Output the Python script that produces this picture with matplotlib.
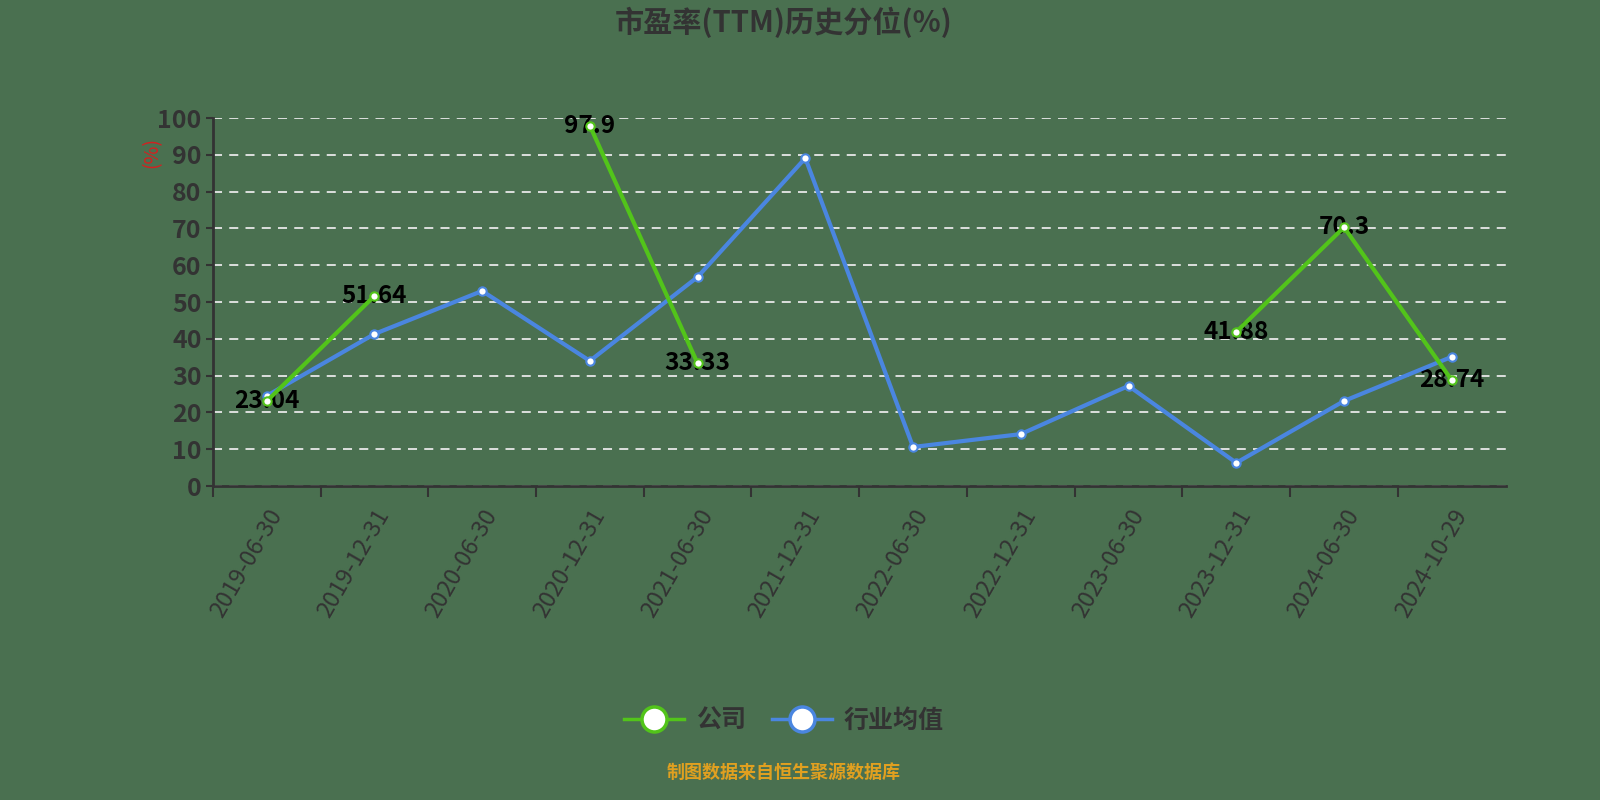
import numpy as np
import matplotlib
matplotlib.use('Agg')
import matplotlib.pyplot as plt
from matplotlib.lines import Line2D

plt.rcParams['font.family'] = ['Noto Sans CJK SC', 'DejaVu Sans']

dates = ['2019-06-30', '2019-12-31', '2020-06-30', '2020-12-31', '2021-06-30', '2021-12-31',
         '2022-06-30', '2022-12-31', '2023-06-30', '2023-12-31', '2024-06-30', '2024-10-29']
company = [23.04, 51.64, np.nan, 97.9, 33.33, np.nan, np.nan, np.nan, np.nan, 41.88, 70.3, 28.74]
industry = [24.5, 41.3, 53.0, 34.0, 56.8, 89.1, 10.6, 14.1, 27.2, 6.3, 23.1, 35.1]

bg = '#4a7050'
green = '#52c41a'
blue = '#4a86e0'
dark = '#333333'

fig = plt.figure(figsize=(16, 8), dpi=100, facecolor=bg)
ax = fig.add_axes([0.133, 0.3925, 0.808, 0.46])
ax.set_facecolor(bg)

x = np.arange(len(dates))
ax.plot(x, industry, color=blue, lw=3, marker='o', ms=6, mfc='white', mec=blue, mew=1.5, zorder=4)
ax.plot(x, company, color=green, lw=3, marker='o', ms=6, mfc='white', mec=green, mew=1.5, zorder=5)

# data labels for company
for xi, v in zip(x, company):
    if not np.isnan(v):
        ax.text(xi, v, f'{v:g}', ha='center', va='center', fontsize=17.5, fontweight='bold',
                color='black', zorder=3)

ax.set_xlim(-0.5, len(dates) - 0.5)
ax.set_ylim(0, 100)
ax.set_yticks(np.arange(0, 101, 10))
ax.tick_params(axis='y', labelsize=18, colors=dark, length=5, width=1.5, pad=3)
for t in ax.get_yticklabels():
    t.set_fontweight('bold')
ax.set_xticks(x - 0.5, minor=False)
ax.set_xticklabels([''] * len(dates))
ax.set_xticks(x, minor=True)
ax.set_xticklabels(dates, minor=True, rotation=60, ha='right', rotation_mode='anchor',
                   fontsize=17, color=dark)
ax.tick_params(axis='x', which='major', length=8, width=1.5, colors=dark)
ax.tick_params(axis='x', which='minor', length=0, pad=14)

ax.yaxis.grid(True, color='#e8e8e8', linestyle=(0, (5, 4)), lw=1.3)
for s in ['top', 'right']:
    ax.spines[s].set_visible(False)
for s in ['left', 'bottom']:
    ax.spines[s].set_color(dark)
    ax.spines[s].set_linewidth(2)

ax.text(-0.047, 0.905, '(%)', transform=ax.transAxes, rotation=90, color='#d42020',
        fontsize=14, ha='center', va='center')

fig.text(0.49, 0.972, '市盈率(TTM)历史分位(%)', ha='center', va='center', fontsize=21,
         fontweight='bold', color=dark)

handles = [
    Line2D([0], [0], color=green, lw=2.5, marker='o', ms=18, mfc='white', mec=green, mew=2.5),
    Line2D([0], [0], color=blue, lw=2.5, marker='o', ms=18, mfc='white', mec=blue, mew=2.5),
]
leg = fig.legend(handles, ['公司', '行业均值'], loc='center', bbox_to_anchor=(0.49, 0.099), ncol=2,
                 frameon=False, handlelength=2.4, handletextpad=0.5, columnspacing=1.0,
                 prop={'size': 18, 'weight': 'bold'})
for t in leg.get_texts():
    t.set_color(dark)

fig.text(0.49, 0.034, '制图数据来自恒生聚源数据库', ha='center', va='center', fontsize=13,
         fontweight='bold', color='#e0a020')

fig.savefig('out.png', dpi=100, facecolor=bg)
